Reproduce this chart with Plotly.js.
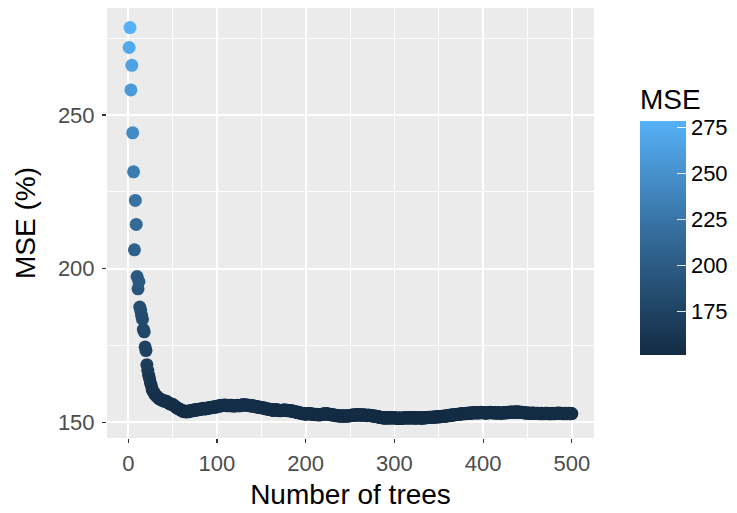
<!DOCTYPE html>
<html>
<head>
<meta charset="utf-8">
<script src="https://cdn.plot.ly/plotly-3.0.1.min.js"></script>
<style>html,body{margin:0;padding:0;background:#fff;}#chart{width:737px;height:513px;}</style>
</head>
<body>
<div id="chart"></div>
<script>
// Out-of-bag MSE (%) per number of trees (tree 1 .. 500)
const mse = [
272.0,278.5,258.2,266.2,244.2,231.5,206.1,222.2,214.4,197.4,
193.4,195.8,187.5,186.4,184.8,183.5,180.2,179.4,174.5,173.3,
168.7,166.9,165.3,164.2,162.8,161.9,160.5,160.1,159.6,159.0,
158.7,158.5,158.1,157.9,157.6,157.5,157.4,157.2,157.0,156.9,
156.8,156.9,156.8,156.5,156.4,156.1,156.0,155.9,155.7,155.8,
155.5,155.3,155.1,154.8,154.6,154.5,154.3,154.2,154.0,153.8,
153.7,153.5,153.4,153.6,153.4,153.3,153.5,153.6,153.4,153.7,
153.8,153.9,153.7,153.9,154.0,154.1,153.9,154.0,154.2,154.1,
154.3,154.2,154.4,154.3,154.5,154.4,154.3,154.4,154.6,154.5,
154.7,154.6,154.8,154.7,154.9,154.8,155.0,154.9,154.9,155.1,
155.2,155.3,155.2,155.4,155.3,155.5,155.5,155.4,155.6,155.5,
155.4,155.3,155.5,155.4,155.3,155.5,155.4,155.3,155.2,155.4,
155.3,155.4,155.5,155.3,155.4,155.3,155.5,155.6,155.7,155.6,
155.6,155.7,155.5,155.6,155.4,155.5,155.3,155.4,155.2,155.3,
155.3,155.1,155.2,155.0,155.1,154.9,154.8,154.9,154.7,154.8,
154.6,154.7,154.6,154.4,154.5,154.3,154.4,154.2,154.1,154.2,
154.0,154.0,153.8,153.9,154.0,154.1,153.9,154.0,153.8,153.9,
153.7,153.8,153.9,153.8,153.9,154.0,153.9,153.8,153.9,153.7,
153.8,153.8,153.6,153.7,153.5,153.6,153.5,153.3,153.4,153.2,
153.1,153.2,153.0,152.9,153.0,152.8,152.7,152.8,152.6,152.7,
152.6,152.7,152.8,152.8,152.7,152.6,152.7,152.5,152.6,152.4,
152.5,152.6,152.4,152.5,152.3,152.4,152.5,152.6,152.5,152.7,
152.6,152.7,152.8,152.6,152.7,152.5,152.6,152.4,152.5,152.3,
152.4,152.2,152.3,152.1,152.2,152.0,152.1,152.0,152.1,151.9,
152.0,152.1,151.9,152.0,152.1,151.9,152.0,152.1,152.0,152.2,
152.1,152.3,152.2,152.4,152.3,152.2,152.4,152.3,152.5,152.4,
152.3,152.4,152.2,152.3,152.4,152.3,152.2,152.3,152.1,152.2,
152.3,152.2,152.1,152.2,152.0,152.1,151.9,152.0,151.8,151.9,
151.7,151.8,151.6,151.5,151.6,151.4,151.5,151.3,151.4,151.3,
151.4,151.5,151.3,151.4,151.5,151.4,151.3,151.4,151.5,151.4,
151.3,151.4,151.3,151.2,151.3,151.4,151.3,151.2,151.3,151.4,
151.3,151.4,151.5,151.4,151.3,151.4,151.5,151.4,151.3,151.4,
151.5,151.4,151.3,151.4,151.3,151.4,151.5,151.4,151.3,151.4,
151.3,151.4,151.3,151.4,151.5,151.4,151.5,151.6,151.5,151.6,
151.5,151.6,151.7,151.6,151.7,151.6,151.7,151.8,151.7,151.8,
151.7,151.8,151.9,151.8,151.9,152.0,151.9,152.0,152.1,152.0,
152.2,152.1,152.3,152.2,152.3,152.4,152.3,152.5,152.4,152.5,
152.6,152.5,152.6,152.7,152.6,152.7,152.8,152.7,152.8,152.7,
152.9,152.8,152.9,153.0,152.9,153.0,152.9,153.0,153.1,153.0,
153.1,153.0,153.1,153.0,153.1,153.0,153.1,153.2,153.1,153.0,
153.1,153.0,152.9,153.0,153.1,153.0,153.1,153.2,153.1,153.0,
153.1,153.0,153.1,153.0,152.9,153.0,153.1,153.0,152.9,153.0,
152.9,153.0,153.1,153.0,153.1,153.0,153.1,153.2,153.1,153.2,
153.3,153.2,153.3,153.2,153.3,153.2,153.3,153.4,153.3,153.2,
153.3,153.2,153.1,153.2,153.1,153.0,153.1,153.0,152.9,153.0,
152.9,153.0,152.9,152.8,152.9,153.0,152.9,152.9,152.8,152.9,
152.8,152.9,152.8,152.7,152.8,152.9,152.8,152.7,152.8,152.9,
152.8,152.9,152.8,152.7,152.8,152.7,152.8,152.9,152.8,152.7,
152.8,152.9,152.8,152.9,153.0,152.9,152.8,152.9,152.8,152.7,
152.8,152.9,152.8,152.7,152.8,152.9,152.8,152.7,152.8,152.8
];
// tree number for each value (1-based position in the series)
const trees = mse.map((_, i) => i + 1);

const xTicks = [0, 100, 200, 300, 400, 500];
const yTicks = [150, 200, 250];
const cbTicks = [175, 200, 225, 250, 275];

const FONT = '"Liberation Sans", Arial, Helvetica, sans-serif';
const TICK_SIZE = 22;
const TITLE_SIZE = 28;

const yMin = Math.min(...mse), yMax = Math.max(...mse);
const yPad = 0.05 * (yMax - yMin);
const xPad = 0.05 * (trees[trees.length - 1] - trees[0]);

const trace = {
  type: 'scatter',
  mode: 'markers',
  x: trees,
  y: mse,
  marker: {
    size: 13,
    color: mse,
    colorscale: [[0, '#132B43'], [0.5, '#336A98'], [1, '#56B1F7']],
    line: {width: 0},
    showscale: true,
    colorbar: {
      title: {text: 'MSE', side: 'top', font: {size: TITLE_SIZE, color: '#000', family: FONT}},
      thickness: 46, thicknessmode: 'pixels',
      len: 270, lenmode: 'pixels',
      x: 1.0945, xanchor: 'left', xpad: 0,
      y: 0.193, yanchor: 'bottom', ypad: 0,
      outlinewidth: 0,
      tickvals: cbTicks,
      tickprefix: '\u00a0',
      ticks: 'inside', ticklen: 9, tickcolor: 'rgba(255,255,255,0.85)', tickwidth: 1,
      tickfont: {size: TICK_SIZE, color: '#000', family: FONT}
    }
  },
  hoverinfo: 'x+y'
};

const layout = {
  width: 737, height: 513,
  margin: {l: 107, r: 143, t: 8, b: 75, autoexpand: false},
  paper_bgcolor: '#FFFFFF',
  plot_bgcolor: '#EBEBEB',
  font: {family: FONT},
  showlegend: false,
  xaxis: {
    range: [trees[0] - xPad, trees[trees.length - 1] + xPad],
    tickvals: xTicks,
    ticks: 'outside', ticklen: 4, tickwidth: 1.2, tickcolor: '#333333',
    ticklabelstandoff: 2,
    tickfont: {size: TICK_SIZE, color: '#4D4D4D', family: FONT},
    showgrid: true, gridcolor: '#FFFFFF', gridwidth: 1.8,
    minor: {dtick: 50, tick0: 50, showgrid: true, gridcolor: '#FFFFFF', gridwidth: 0.9, ticks: ''},
    zeroline: false, showline: false,
    title: {text: 'Number of trees', font: {size: TITLE_SIZE, color: '#000', family: FONT}, standoff: 8}
  },
  yaxis: {
    range: [yMin - yPad, yMax + yPad],
    tickvals: yTicks,
    ticks: 'outside', ticklen: 4, tickwidth: 1.2, tickcolor: '#333333',
    ticklabelstandoff: 3,
    tickfont: {size: TICK_SIZE, color: '#4D4D4D', family: FONT},
    showgrid: true, gridcolor: '#FFFFFF', gridwidth: 1.8,
    minor: {dtick: 25, tick0: 125, showgrid: true, gridcolor: '#FFFFFF', gridwidth: 0.9, ticks: ''},
    zeroline: false, showline: false,
    title: {text: 'MSE (%)', font: {size: TITLE_SIZE, color: '#000', family: FONT}, standoff: 14}
  }
};

Plotly.newPlot('chart', [trace], layout, {displayModeBar: false, staticPlot: true});
</script>
</body>
</html>
